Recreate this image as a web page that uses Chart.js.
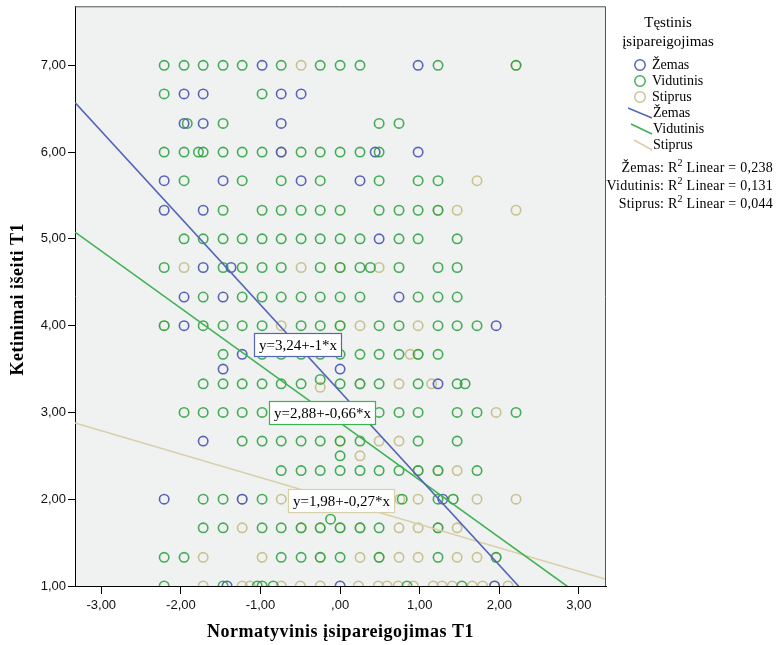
<!DOCTYPE html>
<html>
<head>
<meta charset="utf-8">
<title>Ketinimai išeiti T1</title>
<script src="https://cdn.jsdelivr.net/npm/chart.js@4.4.0/dist/chart.umd.min.js"></script>
<style>
    html, body { margin: 0; padding: 0; background: #fff; }
    #wrap { width: 776px; height: 645px; }
</style>
</head>
<body>
<div id="wrap"><canvas id="grafikas" width="776" height="645"></canvas></div>
<script>
// ==============================================================================
// 1. DATA
// ==============================================================================

const grupes = ['Žemas', 'Vidutinis', 'Stiprus'];
const legendTitle = ['Tęstinis', 'įsipareigojimas'];
const xTitle = 'Normatyvinis įsipareigojimas T1';
const yTitle = 'Ketinimai išeiti T1';

const xTicks = [-3, -2, -1, 0, 1, 2, 3];
const yTicks = [1, 2, 3, 4, 5, 6, 7];
const xRange = [-3.33, 3.34];
const yRange = [1, 7.68];

// [x, y] pairs per group
const zemasTaskai = [
    [-0.98, 7], [0.98, 7],
    [-1.96, 6.67], [-1.72, 6.67], [-0.74, 6.67], [-0.49, 6.67],
    [-1.96, 6.33], [-1.72, 6.33], [-0.74, 6.33],
    [-0.74, 6], [0.44, 6], [0.98, 6],
    [-2.21, 5.67], [-1.47, 5.67], [-0.49, 5.67], [0.25, 5.67],
    [-2.21, 5.33], [-1.72, 5.33],
    [0.49, 5],
    [-1.72, 4.67], [-1.37, 4.67],
    [-1.96, 4.33], [-1.47, 4.33], [0.74, 4.33],
    [-1.96, 4], [1.96, 4],
    [-1.23, 3.67],
    [-1.47, 3.5], [0, 3.5],
    [1.23, 3.33],
    [-1.72, 2.67],
    [-2.21, 2], [-1.23, 2], [1.29, 2],
    [-1.42, 1], [0, 1], [1.94, 1]
];

const vidutinisTaskai = [
    [-2.21, 7], [-1.96, 7], [-1.72, 7], [-1.47, 7], [-1.23, 7], [-0.74, 7], [-0.25, 7], [0, 7], [0.25, 7], [1.23, 7], [2.21, 7],
    [-2.21, 6.67], [-0.98, 6.67],
    [-1.92, 6.33], [-1.47, 6.33], [0.49, 6.33], [0.74, 6.33],
    [-2.21, 6], [-1.96, 6], [-1.78, 6], [-1.72, 6], [-1.47, 6], [-1.23, 6], [-0.98, 6], [-0.49, 6], [-0.25, 6], [0, 6], [0.25, 6], [0.49, 6],
    [-1.96, 5.67], [-1.23, 5.67], [-0.74, 5.67], [-0.25, 5.67], [0.49, 5.67], [0.98, 5.67], [1.23, 5.67],
    [-1.47, 5.33], [-0.98, 5.33], [-0.74, 5.33], [-0.49, 5.33], [-0.25, 5.33], [0, 5.33], [0.49, 5.33], [0.74, 5.33], [0.98, 5.33], [1.23, 5.33],
    [-1.96, 5], [-1.72, 5], [-1.47, 5], [-1.23, 5], [-0.98, 5], [-0.74, 5], [-0.49, 5], [-0.25, 5], [0, 5], [0.25, 5], [0.74, 5], [0.98, 5], [1.47, 5],
    [-2.21, 4.67], [-1.47, 4.67], [-1.23, 4.67], [-0.98, 4.67], [-0.74, 4.67], [-0.25, 4.67], [0, 4.67], [0.25, 4.67], [0.38, 4.67], [0.74, 4.67], [1.23, 4.67], [1.47, 4.67],
    [-1.72, 4.33], [-1.23, 4.33], [-0.98, 4.33], [-0.74, 4.33], [-0.49, 4.33], [-0.25, 4.33], [0, 4.33], [0.25, 4.33], [0.98, 4.33], [1.23, 4.33], [1.47, 4.33],
    [-2.21, 4], [-1.72, 4], [-1.47, 4], [-1.23, 4], [-0.98, 4], [-0.49, 4], [-0.25, 4], [0, 4], [0.49, 4], [0.74, 4], [1.23, 4], [1.47, 4], [1.72, 4],
    [-1.47, 3.67], [-0.98, 3.67], [-0.74, 3.67], [-0.49, 3.67], [-0.25, 3.67], [0, 3.67], [0.25, 3.67], [0.49, 3.67], [0.74, 3.67], [0.98, 3.67], [1.23, 3.67],
    [-1.72, 3.33], [-1.47, 3.33], [-1.23, 3.33], [-0.98, 3.33], [-0.74, 3.33], [-0.49, 3.33], [-0.25, 3.38], [0, 3.33], [0.25, 3.33], [0.49, 3.33], [0.98, 3.33], [1.47, 3.33], [1.57, 3.33],
    [-1.96, 3], [-1.72, 3], [-1.47, 3], [-1.23, 3], [-0.98, 3], [-0.74, 3], [-0.49, 3], [-0.25, 3], [0, 3], [0.25, 3], [0.49, 3], [0.74, 3], [0.98, 3], [1.47, 3], [1.72, 3], [2.21, 3],
    [-1.23, 2.67], [-0.98, 2.67], [-0.74, 2.67], [-0.49, 2.67], [-0.25, 2.67], [0, 2.67], [0.25, 2.67], [0.98, 2.67], [1.47, 2.67],
    [0, 2.5],
    [-0.74, 2.33], [-0.49, 2.33], [-0.25, 2.33], [0, 2.33], [0.25, 2.33], [0.49, 2.33], [0.74, 2.33], [0.98, 2.33], [1.23, 2.33], [1.72, 2.33],
    [-1.72, 2], [-1.47, 2], [-0.98, 2], [-0.49, 2], [-0.25, 2], [0, 2], [0.25, 2], [0.49, 2], [0.78, 2], [1.23, 2], [1.42, 2],
    [-0.12, 1.77],
    [-1.72, 1.67], [-1.47, 1.67], [-0.98, 1.67], [-0.74, 1.67], [-0.49, 1.67], [-0.25, 1.67], [0, 1.67], [0.25, 1.67], [0.49, 1.67], [1.23, 1.67],
    [-2.21, 1.33], [-1.96, 1.33], [-0.74, 1.33], [-0.49, 1.33], [-0.25, 1.33], [0, 1.33], [0.49, 1.33], [1.23, 1.33], [1.96, 1.33],
    [-2.21, 1], [-1.47, 1], [-1.04, 1], [-0.98, 1], [-0.84, 1], [0.84, 1], [1.53, 1]
];

const stiprusTaskai = [
    [-0.49, 7], [2.21, 7],
    [-0.74, 6],
    [1.72, 5.67],
    [1.23, 5.33], [1.47, 5.33], [2.21, 5.33],
    [-1.96, 4.67], [-0.49, 4.67], [0, 4.67], [0.49, 4.67],
    [-2.21, 4], [-0.74, 4], [0, 4], [0.25, 4], [0.98, 4],
    [0.88, 3.67], [0.98, 3.67],
    [-0.25, 3.29], [0.25, 3.33], [0.74, 3.33], [1.15, 3.33],
    [1.96, 3],
    [0, 2.67], [0.49, 2.67], [0.74, 2.67],
    [0.25, 2.5],
    [0.98, 2.33], [1.23, 2.33], [1.47, 2.33],
    [-1.23, 2], [-0.74, 2], [0.75, 2], [0.98, 2], [1.42, 2], [1.72, 2], [2.21, 2],
    [-1.23, 1.67], [-0.49, 1.67], [-0.25, 1.67], [0, 1.67], [0.25, 1.67], [0.74, 1.67], [0.98, 1.67], [1.23, 1.67], [1.47, 1.67],
    [-1.72, 1.33], [-0.98, 1.33], [-0.25, 1.33], [0.25, 1.33], [0.49, 1.33], [0.74, 1.33], [0.98, 1.33], [1.47, 1.33], [1.72, 1.33], [1.96, 1.33],
    [-1.72, 1], [-1.23, 1], [-1.13, 1], [-0.74, 1], [-0.5, 1], [-0.25, 1], [0.23, 1], [0.48, 1], [0.59, 1], [0.73, 1],
    [0.92, 1], [1.17, 1], [1.28, 1], [1.41, 1], [1.66, 1], [1.79, 1], [1.94, 1], [2.11, 1]
];

// linear fit per group: y = a + b*x
const intercepts = [3.24, 2.88, 1.98];
const slopes = [-1, -0.66, -0.27];
const rSquared = [0.238, 0.131, 0.044];
const fitLabels = ['y=3,24+-1*x', 'y=2,88+-0,66*x', 'y=1,98+-0,27*x'];

// ==============================================================================
// 2. STYLE
// ==============================================================================

const pointColors = ['rgba(66, 80, 178, 0.88)', 'rgba(36, 160, 56, 0.85)', 'rgba(194, 186, 124, 0.85)'];
const lineColors = ['rgb(84, 102, 184)', 'rgb(62, 178, 80)', 'rgb(216, 208, 168)'];
const labelAnchors = [[-0.54, 3.78], [-0.23, 3.0], [0.01, 1.99]];

function fmt(v) {
    const s = Math.abs(v).toFixed(2).replace('.', ',');
    return (v < 0 ? '-' : '') + (Math.abs(v) < 1 ? s.replace(/^0/, '') : s);
}

function toPoints(arr) {
    return arr.map(p => ({ x: p[0], y: p[1] }));
}

function fitLine(i) {
    return xRange.map(x => ({ x: x, y: intercepts[i] + slopes[i] * x }));
}

// ==============================================================================
// 3. PLUGIN: plot background, frame, labels, legend, axis titles
// ==============================================================================

const spssFrame = {
    id: 'spssFrame',
    beforeDraw(chart) {
        const { ctx, chartArea: a } = chart;
        ctx.save();
        ctx.fillStyle = '#f0f1f1';
        ctx.fillRect(a.left, a.top, a.right - a.left, a.bottom - a.top);
        ctx.restore();
    },
    afterDatasetsDraw(chart) {
        const { ctx, scales } = chart;
        ctx.save();
        ctx.font = '15px "Liberation Serif"';
        ctx.textAlign = 'center';
        ctx.textBaseline = 'middle';
        fitLabels.forEach((txt, i) => {
            const cx = scales.x.getPixelForValue(labelAnchors[i][0]);
            const cy = scales.y.getPixelForValue(labelAnchors[i][1]);
            const w = Math.round(ctx.measureText(txt).width + 9);
            const h = 23;
            const x0 = Math.round(cx - w / 2) + 0.5;
            const y0 = Math.round(cy - h / 2) + 0.5;
            ctx.fillStyle = '#fff';
            ctx.fillRect(x0, y0, w, h);
            ctx.strokeStyle = lineColors[i];
            ctx.lineWidth = 1.2;
            ctx.strokeRect(x0, y0, w, h);
            ctx.fillStyle = '#000';
            ctx.fillText(txt, x0 + w / 2, y0 + h / 2 + 1);
        });
        ctx.restore();
    },
    afterDraw(chart) {
        const { ctx, chartArea: a } = chart;
        ctx.save();

        // top + right frame
        ctx.strokeStyle = '#555';
        ctx.lineWidth = 1;
        ctx.beginPath();
        ctx.moveTo(a.left, a.top + 0.5);
        ctx.lineTo(a.right - 0.5, a.top + 0.5);
        ctx.lineTo(a.right - 0.5, a.bottom);
        ctx.stroke();

        // axis titles
        ctx.fillStyle = '#000';
        ctx.font = 'bold 18px "Liberation Serif"';
        ctx.letterSpacing = '0.5px';
        ctx.textAlign = 'center';
        ctx.textBaseline = 'middle';
        ctx.fillText(xTitle, (a.left + a.right) / 2, 632);
        ctx.save();
        ctx.translate(18, (a.top + a.bottom) / 2 + 3);
        ctx.rotate(-Math.PI / 2);
        ctx.fillText(yTitle, 0, 0);
        ctx.restore();
        ctx.letterSpacing = '0px';

        // legend title
        ctx.font = '15px "Liberation Serif"';
        ctx.fillText(legendTitle[0], 668, 23);
        ctx.fillText(legendTitle[1], 668, 42);

        // point markers
        ctx.font = '14px "Liberation Serif"';
        ctx.textAlign = 'left';
        const markY = [65, 81, 97];
        grupes.forEach((g, i) => {
            ctx.strokeStyle = pointColors[i];
            ctx.lineWidth = 1.5;
            ctx.beginPath();
            ctx.arc(640, markY[i], 5.2, 0, Math.PI * 2);
            ctx.stroke();
            ctx.fillText(g, 652, markY[i]);
        });

        // line markers
        const lineY = [113, 129, 145];
        grupes.forEach((g, i) => {
            ctx.strokeStyle = lineColors[i];
            ctx.lineWidth = 1.5;
            ctx.beginPath();
            ctx.moveTo(628 + i * 3, lineY[i] - 5);
            ctx.lineTo(652, lineY[i] + 5);
            ctx.stroke();
            ctx.fillText(g, 653, lineY[i]);
        });

        // R2 lines, right aligned
        const rY = [168, 186, 204];
        const right = 773;
        ctx.letterSpacing = '0.25px';
        grupes.forEach((g, i) => {
            const p1 = g + ': R';
            const p2 = ' Linear = ' + rSquared[i].toFixed(3).replace('.', ',');
            ctx.font = '14px "Liberation Serif"';
            const w1 = ctx.measureText(p1).width;
            const w2 = ctx.measureText(p2).width;
            ctx.font = '10px "Liberation Serif"';
            const ws = ctx.measureText('2').width;
            let x = right - (w1 + ws + w2);
            ctx.font = '14px "Liberation Serif"';
            ctx.fillText(p1, x, rY[i]);
            ctx.font = '10px "Liberation Serif"';
            ctx.fillText('2', x + w1, rY[i] - 5);
            ctx.font = '14px "Liberation Serif"';
            ctx.fillText(p2, x + w1 + ws, rY[i]);
        });
        ctx.letterSpacing = '0px';

        ctx.restore();
    }
};

// ==============================================================================
// 4. CHART
// ==============================================================================

const pointSets = [zemasTaskai, vidutinisTaskai, stiprusTaskai];
const pointOrder = [2, 1, 3];

const datasets = [];
grupes.forEach((g, i) => {
    datasets.push({
        label: g + ' (fit)',
        data: fitLine(i),
        showLine: true,
        borderColor: lineColors[i],
        borderWidth: 1.6,
        pointRadius: 0,
        clip: 0,
        order: 0
    });
});
grupes.forEach((g, i) => {
    datasets.push({
        label: g,
        data: toPoints(pointSets[i]),
        showLine: false,
        pointStyle: 'circle',
        pointRadius: 4.7,
        pointBorderWidth: 1.6,
        pointBorderColor: pointColors[i],
        pointBackgroundColor: 'rgba(0,0,0,0)',
        clip: 0,
        order: pointOrder[i]
    });
});

const tickFont = { family: '"Liberation Sans", Arial, sans-serif', size: 13 };

function noPad(s) {
    s.paddingTop = 0;
    s.paddingBottom = 0;
    s.paddingLeft = 0;
    s.paddingRight = 0;
}

new Chart(document.getElementById('grafikas'), {
    type: 'scatter',
    data: { datasets: datasets },
    plugins: [spssFrame],
    options: {
        responsive: false,
        animation: false,
        events: [],
        layout: { padding: { top: 5, right: 170, left: 0, bottom: 0 } },
        plugins: {
            legend: { display: false },
            tooltip: { enabled: false }
        },
        scales: {
            x: {
                type: 'linear',
                min: xRange[0],
                max: xRange[1],
                afterBuildTicks: s => { s.ticks = xTicks.map(v => ({ value: v })); },
                afterFit: s => { s.height = 59; noPad(s); },
                ticks: { font: tickFont, color: '#111', padding: 4, maxRotation: 0, callback: v => fmt(v) },
                grid: { drawOnChartArea: false, drawTicks: true, tickLength: 8, color: '#000' },
                border: { color: '#000', width: 1 }
            },
            y: {
                type: 'linear',
                min: yRange[0],
                max: yRange[1],
                afterBuildTicks: s => { s.ticks = yTicks.map(v => ({ value: v })); },
                afterFit: s => { s.width = 75; noPad(s); },
                ticks: { font: tickFont, color: '#111', padding: 2, callback: v => fmt(v) },
                grid: { drawOnChartArea: false, drawTicks: true, tickLength: 7, color: '#000' },
                border: { color: '#000', width: 1 }
            }
        }
    }
});
</script>
</body>
</html>
